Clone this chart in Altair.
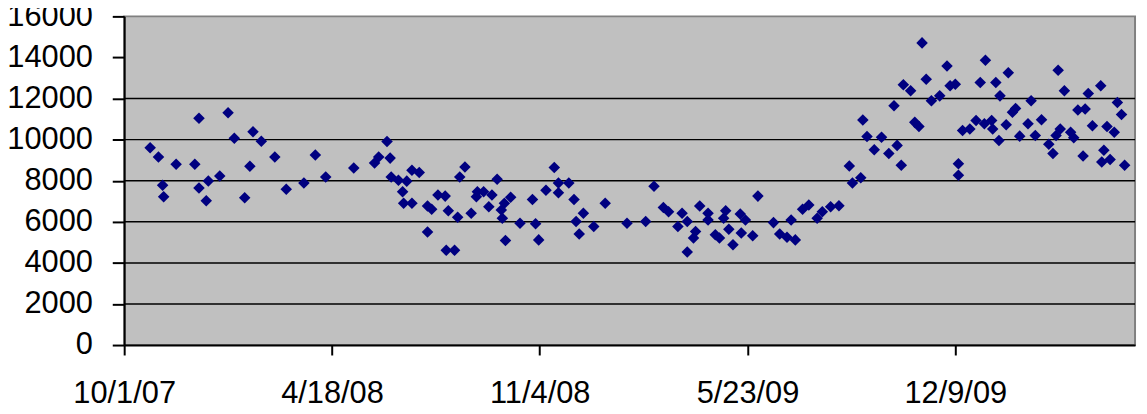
import json
import altair as alt
import pandas as pd

days = [25, 33, 37, 38, 50, 68, 72, 72, 79, 81, 92, 100, 106, 116, 121, 124, 132, 145, 156, 173, 184, 194,
        221, 241, 245, 253, 256, 257, 264, 272, 277, 284, 268, 269, 277, 292, 296, 292, 302, 309, 312, 321,
        310, 318, 328, 323, 334, 340, 339, 346, 354, 351, 359, 363, 366, 372, 364, 367, 381, 393, 396, 399, 406,
        414, 418, 418, 428, 433, 442, 435, 438, 452, 463, 484, 502, 510, 519, 524, 537, 533, 542, 550, 548,
        542, 554, 562, 562, 569, 573, 579, 577, 582, 586, 593, 598, 594, 605, 610,
        625, 631, 638, 646, 642, 653, 659, 667, 672, 680, 688, 698, 701, 709, 711, 715, 722, 729, 736, 744,
        748, 741, 750, 757, 761, 765, 768, 772, 777,
        785, 792, 795, 800, 803, 803, 807, 814, 820, 824, 829, 828, 835, 836, 839, 843, 842, 849, 851, 855,
        858, 862, 870, 873, 877, 883, 890, 894, 897, 901, 899, 905, 911, 914, 918, 925, 923, 928, 932, 940,
        943, 941, 949, 946, 953, 956, 960, 963]
values = [9600, 9150, 7780, 7220, 8800, 8800, 11040, 7650, 7020, 7990, 8230, 11310, 10070, 7170, 8700, 10380,
          9920, 9150, 7580, 7890, 9250, 8180,
          8620, 8860, 9150, 9910, 9100, 8180, 8020, 7980, 8510, 8400, 7460, 6900, 6900, 6770, 6610, 5500, 7300,
          7250, 6540, 6220, 4610, 4610, 8670, 8180, 6420, 7460, 7220, 7460, 7300, 6730, 8070, 6570, 6900, 7190,
          6170, 5090, 5930, 7090, 5900, 5120, 7540,
          8640, 7890, 7410, 7890, 7090, 6420, 6010, 5410, 5770, 6900, 5930, 6010, 7730, 6700, 6490, 6420, 5770,
          6010, 5530, 5210, 4530, 6770, 6420, 6090, 5370, 5210, 6540, 6170, 5640, 4880, 6380, 6090, 5450, 5320,
          7250,
          5960, 5410, 5250, 5120, 6090, 6610, 6820, 6170, 6490, 6730, 6780, 8720, 7890, 8140, 10960, 10150, 9510,
          10120, 9320, 9720, 8750, 11650, 12670, 12380, 10840, 10640, 14710, 12940, 11890,
          12130, 13580, 12620, 12700, 8830, 8270, 10440, 10520, 10930, 12780, 13860, 10770, 10930, 10520, 12780,
          12130, 9960, 10720, 13260, 11330, 11520, 10170, 10770, 11890, 10200, 10970, 9770, 9320, 10200, 10520,
          13380, 12380, 10360, 10090, 11440, 11490, 9200, 12250, 10680, 12620, 9480, 8910, 9030, 10640, 10360,
          11810, 11220, 8750]

tick_days = [0, 200, 400, 600, 800]
tick_labels = ["10/1/07", "4/18/08", "11/4/08", "5/23/09", "12/9/09"]
y_ticks = [0, 2000, 4000, 6000, 8000, 10000, 12000, 14000, 16000]
grid_values = [2000, 4000, 6000, 8000, 10000, 12000]

df = pd.DataFrame({"day": days, "value": values})
grid_df = pd.DataFrame({"value": grid_values})

label_expr = (json.dumps(tick_labels).replace('"', "'")
              + "[indexof(" + json.dumps(tick_days) + ", datum.value)]")

x_enc = alt.X(
    "day:Q",
    scale=alt.Scale(domain=[0, 973], nice=False, zero=False),
    axis=alt.Axis(values=tick_days, labelExpr=label_expr, title=None, grid=False,
                  tickSize=10, labelPadding=24, labelOverlap=False, labelFlush=False),
)
y_axis = alt.Axis(values=y_ticks, format="d", grid=False, title=None, tickSize=12,
                  labelPadding=20, labelOverlap=False, labelFlush=False)
y_scale = alt.Scale(domain=[0, 16000], nice=False)

grid = alt.Chart(grid_df).mark_rule(color="black", strokeWidth=1.5).encode(
    y=alt.Y("value:Q", scale=y_scale, axis=y_axis)
)

points = alt.Chart(df).mark_point(
    shape="diamond", filled=True, size=135, color="#000080", opacity=1
).encode(x=x_enc, y=alt.Y("value:Q", scale=y_scale, axis=y_axis))

chart = (
    alt.layer(grid, points)
    .properties(
        width=1018,
        height=331,
        autosize="none",
        padding={"left": 117, "top": 7, "right": 4, "bottom": 68},
        background="white",
    )
    .configure_view(fill="#C0C0C0", stroke="#808080", strokeWidth=2)
    .configure_axis(
        domainColor="black",
        domainWidth=2,
        tickColor="black",
        tickWidth=2,
        labelFont="Liberation Sans",
        labelFontSize=31,
        labelColor="black",
    )
)

chart.save("out.html", embed_options={"renderer": "svg", "actions": False})
